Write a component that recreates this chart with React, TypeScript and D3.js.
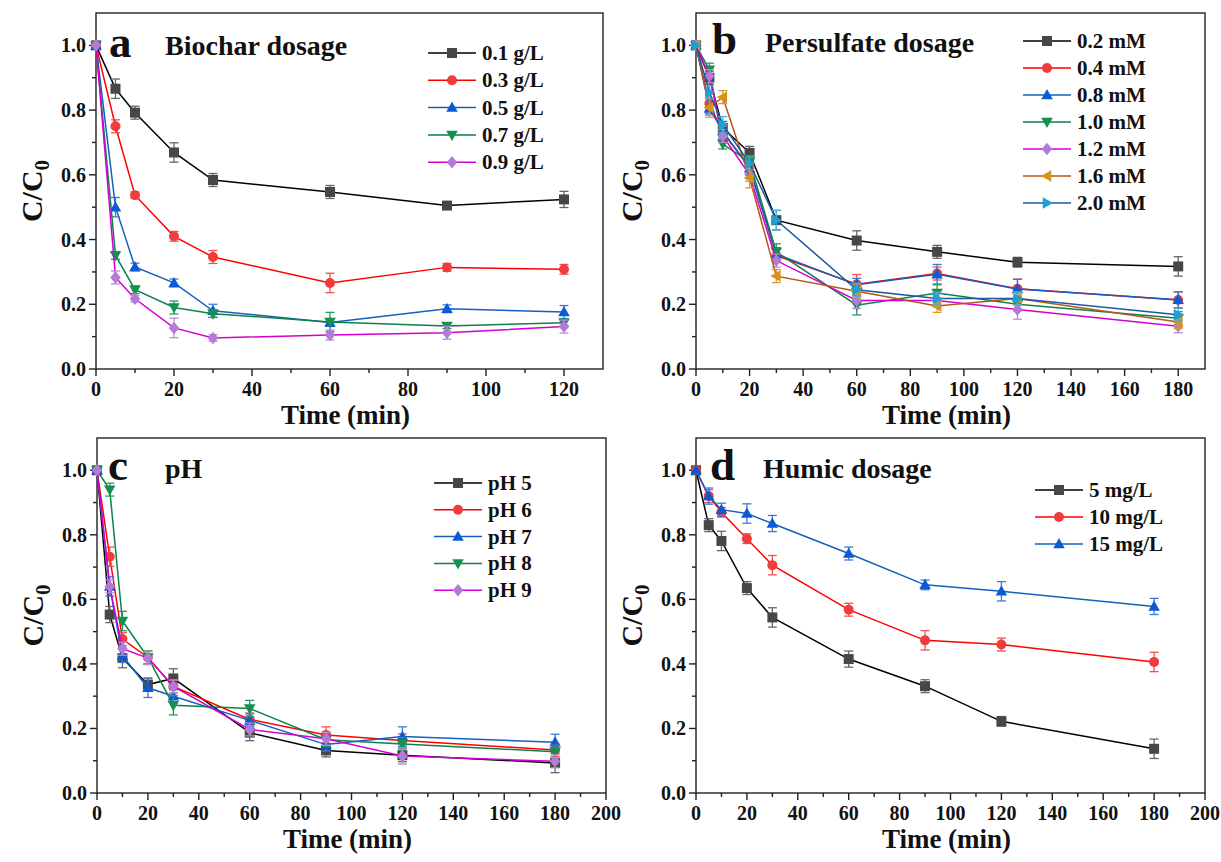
import React from 'react';
import * as d3 from 'd3';

// ---------- DATA ----------
const timeA = [0, 5, 10, 20, 30, 60, 90, 120];
const timeB = [0, 5, 10, 20, 30, 60, 90, 120, 180];

const labelsA = ['0.1 g/L', '0.3 g/L', '0.5 g/L', '0.7 g/L', '0.9 g/L'];
const valuesA = [
  [1.0, 0.866, 0.792, 0.669, 0.584, 0.547, 0.505, 0.524],
  [1.0, 0.75, 0.537, 0.41, 0.346, 0.266, 0.314, 0.308],
  [1.0, 0.50, 0.315, 0.266, 0.18, 0.144, 0.186, 0.176],
  [1.0, 0.351, 0.245, 0.19, 0.171, 0.145, 0.133, 0.143],
  [1.0, 0.283, 0.217, 0.127, 0.096, 0.105, 0.112, 0.131],
];
const errorsA = [
  [0, 0.03, 0.02, 0.03, 0.02, 0.02, 0.006, 0.025],
  [0, 0.02, 0.01, 0.015, 0.02, 0.03, 0.012, 0.015],
  [0, 0.03, 0.012, 0.012, 0.02, 0.012, 0.012, 0.02],
  [0, 0.012, 0.012, 0.02, 0.012, 0.03, 0.008, 0.008],
  [0, 0.02, 0.01, 0.03, 0.01, 0.015, 0.02, 0.02],
];

const labelsB = ['0.2 mM', '0.4 mM', '0.8 mM', '1.0 mM', '1.2 mM', '1.6 mM', '2.0 mM'];
const valuesB = [
  [1.0, 0.9, 0.745, 0.668, 0.46, 0.397, 0.362, 0.33, 0.317],
  [1.0, 0.82, 0.73, 0.625, 0.35, 0.262, 0.295, 0.248, 0.213],
  [1.0, 0.805, 0.735, 0.62, 0.355, 0.26, 0.293, 0.247, 0.214],
  [1.0, 0.925, 0.695, 0.64, 0.362, 0.197, 0.235, 0.2, 0.157],
  [1.0, 0.905, 0.72, 0.6, 0.335, 0.212, 0.212, 0.184, 0.132],
  [1.0, 0.808, 0.84, 0.59, 0.287, 0.24, 0.195, 0.218, 0.145],
  [1.0, 0.855, 0.755, 0.635, 0.46, 0.245, 0.218, 0.218, 0.168],
];
const errorsB = [
  [0, 0.02, 0.02, 0.02, 0.03, 0.03, 0.02, 0.015, 0.03],
  [0, 0.03, 0.02, 0.02, 0.02, 0.03, 0.02, 0.03, 0.025],
  [0, 0.02, 0.02, 0.02, 0.02, 0.02, 0.03, 0.03, 0.025],
  [0, 0.02, 0.015, 0.02, 0.025, 0.03, 0.025, 0.02, 0.02],
  [0, 0.02, 0.02, 0.02, 0.02, 0.025, 0.02, 0.03, 0.02],
  [0, 0.03, 0.02, 0.03, 0.02, 0.02, 0.02, 0.02, 0.02],
  [0, 0.02, 0.025, 0.02, 0.03, 0.02, 0.02, 0.02, 0.02],
];

const labelsC = ['pH 5', 'pH 6', 'pH 7', 'pH 8', 'pH 9'];
const valuesC = [
  [1.0, 0.553, 0.418, 0.336, 0.355, 0.187, 0.132, 0.117, 0.093],
  [1.0, 0.732, 0.477, 0.42, 0.33, 0.228, 0.18, 0.163, 0.133],
  [1.0, 0.64, 0.425, 0.326, 0.30, 0.225, 0.15, 0.175, 0.157],
  [1.0, 0.94, 0.533, 0.42, 0.272, 0.262, 0.165, 0.152, 0.128],
  [1.0, 0.64, 0.447, 0.418, 0.33, 0.197, 0.168, 0.115, 0.098],
];
const errorsC = [
  [0, 0.025, 0.03, 0.02, 0.03, 0.025, 0.02, 0.02, 0.03],
  [0, 0.03, 0.02, 0.02, 0.02, 0.02, 0.025, 0.02, 0.02],
  [0, 0.03, 0.02, 0.03, 0.02, 0.02, 0.02, 0.03, 0.025],
  [0, 0.02, 0.03, 0.02, 0.03, 0.025, 0.02, 0.02, 0.02],
  [0, 0.02, 0.02, 0.02, 0.02, 0.02, 0.02, 0.025, 0.02],
];

const labelsD = ['5 mg/L', '10 mg/L', '15 mg/L'];
const valuesD = [
  [1.0, 0.83, 0.781, 0.635, 0.544, 0.415, 0.331, 0.222, 0.137],
  [1.0, 0.92, 0.87, 0.788, 0.706, 0.568, 0.473, 0.46, 0.406],
  [1.0, 0.92, 0.878, 0.866, 0.835, 0.742, 0.645, 0.625, 0.578],
];
const errorsD = [
  [0, 0.02, 0.03, 0.02, 0.03, 0.025, 0.02, 0.015, 0.03],
  [0, 0.02, 0.015, 0.015, 0.03, 0.02, 0.03, 0.02, 0.03],
  [0, 0.025, 0.02, 0.03, 0.025, 0.02, 0.015, 0.03, 0.025],
];

const yTicks = [0, 0.2, 0.4, 0.6, 0.8, 1.0];
const yMinor = [0.1, 0.3, 0.5, 0.7, 0.9];

// ---------- STYLES ----------
type Style = { line: string; fill: string; err: string; shape: string };
const sBlack: Style = { line: '#000000', fill: '#474747', err: '#666666', shape: 'square' };
const sRed: Style = { line: '#ff0000', fill: '#f03c3c', err: '#f05050', shape: 'circle' };
const sBlue: Style = { line: '#1560bd', fill: '#0d5ad6', err: '#3a7ad8', shape: 'up' };
const sGreen: Style = { line: '#0e8048', fill: '#15904f', err: '#2a9a60', shape: 'down' };
const sPurple: Style = { line: '#d400d4', fill: '#b47ad8', err: '#b88ad8', shape: 'diamond' };
const sOrange: Style = { line: '#b4561a', fill: '#d8921c', err: '#d89a30', shape: 'left' };
const sCyan: Style = { line: '#1a5aa0', fill: '#1fa0d0', err: '#40b0d8', shape: 'right' };

const FONT = "'Liberation Serif', 'Times New Roman', Times, 'DejaVu Serif', serif";

function shapePath(shape: string, s: number): string {
  switch (shape) {
    case 'square':
      return `M${-s},${-s}H${s}V${s}H${-s}Z`;
    case 'circle':
      return `M${s},0A${s},${s} 0 1,1 ${-s},0A${s},${s} 0 1,1 ${s},0Z`;
    case 'up':
      return `M0,${-s * 1.2}L${s * 1.15},${s * 0.85}L${-s * 1.15},${s * 0.85}Z`;
    case 'down':
      return `M0,${s * 1.2}L${s * 1.15},${-s * 0.85}L${-s * 1.15},${-s * 0.85}Z`;
    case 'left':
      return `M${-s * 1.2},0L${s * 0.85},${-s * 1.15}L${s * 0.85},${s * 1.15}Z`;
    case 'right':
      return `M${s * 1.2},0L${-s * 0.85},${-s * 1.15}L${-s * 0.85},${s * 1.15}Z`;
    case 'diamond':
      return `M0,${-s * 1.25}L${s * 1.05},0L0,${s * 1.25}L${-s * 1.05},0Z`;
  }
  return '';
}

type PanelProps = {
  left: number; right: number; top: number; bottom: number;
  xMax: number; xTicks: number[]; xMinor: number[];
  times: number[]; values: number[][]; errors: number[][];
  labels: string[]; styles: Style[];
  letter: string; title: string; letterX: number; titleX: number; baseY: number;
  legX: number; legY: number; legDy: number;
};

function Panel(p: PanelProps) {
  const x = d3.scaleLinear().domain([0, p.xMax]).range([p.left, p.right]);
  const y = d3.scaleLinear().domain([0, 1.1]).range([p.bottom, p.top]);
  const line = d3.line<[number, number]>().x((d) => x(d[0])).y((d) => y(d[1]));
  const axisColor = '#222';
  const ms = 5;
  const tStyle = { fontFamily: FONT, fontWeight: 700 } as React.CSSProperties;
  return (
    <g style={tStyle}>
      {/* frame */}
      <rect x={p.left} y={p.top} width={p.right - p.left} height={p.bottom - p.top}
        fill="none" stroke={axisColor} strokeWidth={1.4} />
      {/* x ticks */}
      {p.xTicks.map((t) => (
        <g key={'xt' + t}>
          <line x1={x(t)} x2={x(t)} y1={p.bottom} y2={p.bottom + 7} stroke={axisColor} strokeWidth={1.4} />
          <text x={x(t)} y={p.bottom + 27} textAnchor="middle" style={{ ...tStyle, fontSize: 20 }} fill="#111">{t}</text>
        </g>
      ))}
      {p.xMinor.map((t) => (
        <line key={'xm' + t} x1={x(t)} x2={x(t)} y1={p.bottom} y2={p.bottom + 4} stroke={axisColor} strokeWidth={1.4} />
      ))}
      {/* y ticks */}
      {yTicks.map((t) => (
        <g key={'yt' + t}>
          <line x1={p.left - 7} x2={p.left} y1={y(t)} y2={y(t)} stroke={axisColor} strokeWidth={1.4} />
          <text x={p.left - 10} y={y(t) + 7} textAnchor="end" style={{ ...tStyle, fontSize: 20 }} fill="#111">{t.toFixed(1)}</text>
        </g>
      ))}
      {yMinor.map((t) => (
        <line key={'ym' + t} x1={p.left - 4} x2={p.left} y1={y(t)} y2={y(t)} stroke={axisColor} strokeWidth={1.4} />
      ))}
      {/* axis titles */}
      <text x={(p.left + p.right) / 2 - 4} y={p.bottom + 55} textAnchor="middle" style={{ ...tStyle, fontSize: 27 }} fill="#111">Time (min)</text>
      <text transform={`translate(${p.left - 54},${(p.top + p.bottom) / 2}) rotate(-90)`} textAnchor="middle" style={{ ...tStyle, fontSize: 30 }} fill="#111">
        C/C<tspan style={{ fontSize: 21 }} dy={7}>0</tspan>
      </text>
      {/* series */}
      {p.values.map((vals, i) => {
        const st = p.styles[i];
        const pts: [number, number][] = vals.map((v, j) => [p.times[j], v]);
        return (
          <g key={'s' + i}>
            <path d={line(pts) || ''} fill="none" stroke={st.line} strokeWidth={1.5} />
            {pts.map((d, j) => {
              const e = p.errors[i][j];
              if (!e) return null;
              const cx = x(d[0]);
              return (
                <g key={'e' + j} stroke={st.err} strokeWidth={1.3}>
                  <line x1={cx} x2={cx} y1={y(d[1] - e)} y2={y(d[1] + e)} />
                  <line x1={cx - 4.5} x2={cx + 4.5} y1={y(d[1] - e)} y2={y(d[1] - e)} />
                  <line x1={cx - 4.5} x2={cx + 4.5} y1={y(d[1] + e)} y2={y(d[1] + e)} />
                </g>
              );
            })}
            {pts.map((d, j) => (
              <path key={'m' + j} d={shapePath(st.shape, ms)} transform={`translate(${x(d[0])},${y(d[1])})`} fill={st.fill} stroke="none" />
            ))}
          </g>
        );
      })}
      {/* letter + title */}
      <text x={p.letterX} y={p.baseY} style={{ ...tStyle, fontSize: 45 }} fill="#111">{p.letter}</text>
      <text x={p.titleX} y={p.baseY - 2} style={{ ...tStyle, fontSize: 28 }} fill="#111">{p.title}</text>
      {/* legend */}
      {p.labels.map((lab, i) => {
        const st = p.styles[i];
        const ly = p.legY + i * p.legDy;
        return (
          <g key={'l' + i}>
            <line x1={p.legX} x2={p.legX + 48} y1={ly} y2={ly} stroke={st.line} strokeWidth={1.5} />
            <path d={shapePath(st.shape, ms)} transform={`translate(${p.legX + 24},${ly})`} fill={st.fill} />
            <text x={p.legX + 54} y={ly + 7} style={{ ...tStyle, fontSize: 21 }} fill="#111">{lab}</text>
          </g>
        );
      })}
    </g>
  );
}

export default function App() {
  const tA = d3.range(0, 121, 20);
  const mA = d3.range(10, 130, 20);
  const tB = d3.range(0, 181, 20);
  const mB = d3.range(10, 190, 20);
  const tC = d3.range(0, 201, 20);
  const mC = d3.range(10, 200, 20);
  return (
    <svg width={1221} height={862} style={{ position: 'absolute', left: 0, top: 0, background: '#fff' }}>
      <rect width={1221} height={862} fill="#fff" />
      <Panel left={96} right={603} top={13} bottom={369} xMax={130} xTicks={tA} xMinor={mA}
        times={timeA} values={valuesA} errors={errorsA} labels={labelsA}
        styles={[sBlack, sRed, sBlue, sGreen, sPurple]}
        letter="a" title="Biochar dosage" letterX={109} titleX={165} baseY={57}
        legX={428} legY={53} legDy={27.3} />
      <Panel left={696} right={1205} top={13} bottom={369} xMax={190} xTicks={tB} xMinor={mB}
        times={timeB} values={valuesB} errors={errorsB} labels={labelsB}
        styles={[sBlack, sRed, sBlue, sGreen, sPurple, sOrange, sCyan]}
        letter="b" title="Persulfate dosage" letterX={712} titleX={765} baseY={54}
        legX={1023} legY={41} legDy={27} />
      <Panel left={97} right={606} top={438} bottom={793} xMax={200} xTicks={tC} xMinor={mC}
        times={timeB} values={valuesC} errors={errorsC} labels={labelsC}
        styles={[sBlack, sRed, sBlue, sGreen, sPurple]}
        letter="c" title="pH" letterX={108} titleX={165} baseY={480}
        legX={434} legY={483} legDy={26.8} />
      <Panel left={696} right={1205} top={438} bottom={793} xMax={200} xTicks={tC} xMinor={mC}
        times={timeB} values={valuesD} errors={errorsD} labels={labelsD}
        styles={[sBlack, sRed, sBlue]}
        letter="d" title="Humic dosage" letterX={710} titleX={763} baseY={480}
        legX={1035} legY={490} legDy={27} />
    </svg>
  );
}
